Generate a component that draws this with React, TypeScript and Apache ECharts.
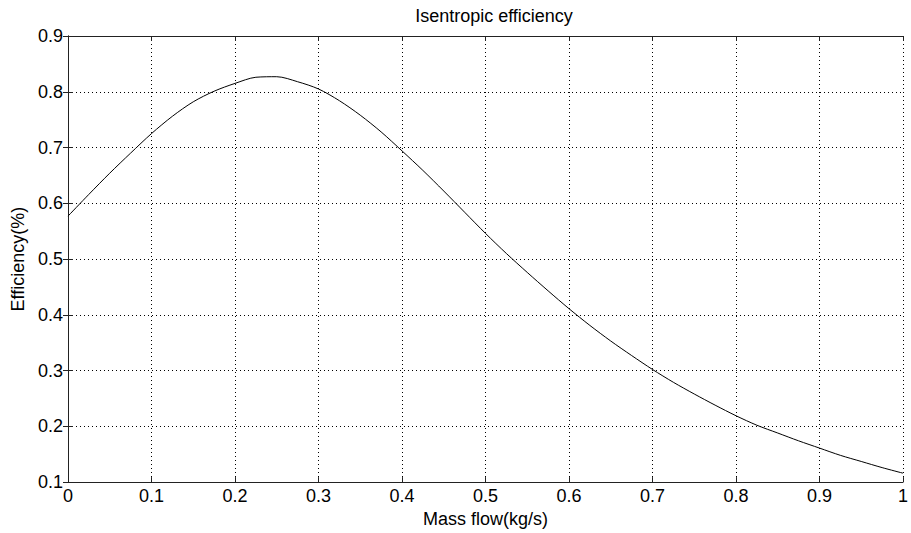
import React, { useEffect, useRef } from "react";
import * as echarts from "echarts";

const massFlow = [
  0, 0.025, 0.05, 0.075, 0.1, 0.125, 0.15, 0.175, 0.2, 0.225, 0.25, 0.275, 0.3, 0.325, 0.35, 0.375, 0.4,
  0.425, 0.45, 0.475, 0.5, 0.525, 0.55, 0.575, 0.6, 0.625, 0.65, 0.675, 0.7, 0.725, 0.75, 0.775, 0.8,
  0.825, 0.85, 0.875, 0.9, 0.925, 0.95, 0.975, 1.0,
];
const efficiency = [
  0.577, 0.616, 0.654, 0.690, 0.725, 0.756, 0.782, 0.801, 0.815, 0.826, 0.827, 0.818, 0.805, 0.784, 0.758, 0.728, 0.694,
  0.659, 0.622, 0.584, 0.546, 0.510, 0.476, 0.443, 0.411, 0.381, 0.353, 0.327, 0.302, 0.279, 0.258, 0.238, 0.219,
  0.202, 0.188, 0.174, 0.161, 0.148, 0.137, 0.126, 0.116,
];

const titleText = "Isentropic efficiency";
const xName = "Mass flow(kg/s)";
const yName = "Efficiency(%)";

const FONT = "'Liberation Sans', Arial, Helvetica, sans-serif";

export default function App() {
  const ref = useRef<HTMLDivElement>(null);
  useEffect(() => {
    if (!ref.current) return;
    const chart = echarts.init(ref.current, undefined, { renderer: "svg" });
    const fmt = (v: number) => String(+v.toFixed(1));
    const axisLine = { show: true, lineStyle: { color: "#222", width: 1 } };
    const tick = { show: true, inside: true, length: 5, lineStyle: { color: "#222" } };
    const split = { show: true, lineStyle: { color: "#000", type: [1, 3] as any, width: 1 } };
    const label = { color: "#000", fontSize: 18, fontFamily: FONT };
    chart.setOption({
      animation: false,
      backgroundColor: "#fff",
      title: {
        text: titleText,
        left: 489,
        top: 2,
        textAlign: "center",
        textStyle: { color: "#000", fontSize: 18, fontWeight: "normal", fontFamily: FONT },
      },
      grid: { left: 68, right: 1, top: 36, bottom: 49, containLabel: false },
      xAxis: [
        {
          type: "value",
          min: 0,
          max: 1,
          interval: 0.1,
          name: xName,
          nameLocation: "middle",
          nameGap: 24,
          nameTextStyle: { color: "#000", fontSize: 18, fontFamily: FONT },
          axisLine,
          axisTick: tick,
          splitLine: split,
          axisLabel: { ...label, margin: 5, formatter: fmt },
        },
        {
          type: "value",
          position: "top",
          min: 0,
          max: 1,
          interval: 0.1,
          axisLine,
          axisTick: tick,
          splitLine: { show: false },
          axisLabel: { show: false },
        },
      ],
      yAxis: [
        {
          type: "value",
          min: 0.1,
          max: 0.9,
          interval: 0.1,
          name: yName,
          nameLocation: "middle",
          nameGap: 40,
          nameTextStyle: { color: "#000", fontSize: 18, fontFamily: FONT },
          axisLine,
          axisTick: tick,
          splitLine: split,
          axisLabel: { ...label, margin: 5, formatter: fmt },
        },
        {
          type: "value",
          position: "right",
          min: 0.1,
          max: 0.9,
          interval: 0.1,
          axisLine,
          axisTick: tick,
          splitLine: { show: false },
          axisLabel: { show: false },
        },
      ],
      series: [
        {
          type: "line",
          data: massFlow.map((x, i) => [x, efficiency[i]]),
          smooth: 0.3,
          showSymbol: false,
          lineStyle: { color: "#000", width: 1 },
          xAxisIndex: 0,
          yAxisIndex: 0,
        },
      ],
    });
    return () => chart.dispose();
  }, []);
  return (
    <div
      ref={ref}
      style={{ position: "fixed", left: 0, top: 0, width: 911, height: 533, background: "#fff" }}
    />
  );
}
